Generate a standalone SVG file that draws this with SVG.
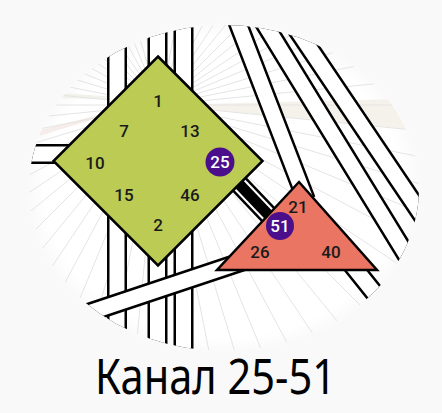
<svg xmlns="http://www.w3.org/2000/svg" width="442" height="413" viewBox="0 0 442 413">
<defs>
<radialGradient id="bg" cx="0.5" cy="0.5" r="0.5">
<stop offset="0.9" stop-color="#ffffff"/>
<stop offset="1" stop-color="#f9f9f9"/>
</radialGradient>
<clipPath id="cl"><ellipse cx="224" cy="188" rx="195" ry="163"/></clipPath>
<style>
.ray{stroke:#e4e4e4;stroke-width:1;fill:none}
.so{stroke:#000;stroke-width:20;fill:none}
.si{stroke:#fff;stroke-width:15;fill:none}
.lab{font-family:Roboto,"Noto Sans",sans-serif;font-size:17px;font-weight:500;fill:#1a1a1a;text-anchor:middle}
.gl{font-family:Roboto,"Noto Sans",sans-serif;font-size:17px;font-weight:500;fill:#fff;text-anchor:middle}
.gc{fill:#4b0f8c}
</style>
</defs>
<rect width="442" height="413" fill="#f9f9f9"/>
<ellipse cx="224" cy="188" rx="198" ry="166" fill="url(#bg)"/>
<g id="background" clip-path="url(#cl)">
<polygon points="160,99 -10,143 -10,151" fill="#f6ecea"/>
<polygon points="160,100 -10,88 -10,97" fill="#f1f3ea"/>
<polygon points="160,105 440,98 440,132" fill="#f5f2ec"/>
<path class="ray" d="M-260,105L580,105M-258,63.8L578,146.2M-251.9,23.1L571.9,186.9M-241.9,-16.9L561.9,226.9M-228,-55.7L548,265.7M-210.4,-93L530.4,303M-189.2,-128.3L509.2,338.3M-164.7,-161.4L484.7,371.4M-137,-192L457,402M-106.4,-219.7L426.4,429.7M-73.3,-244.2L393.3,454.2M-38,-265.4L358,475.4M-0.7,-283L320.7,493M38.1,-296.9L281.9,506.9M78.1,-306.9L241.9,516.9M118.8,-313L201.2,523M160,-315L160,525M201.2,-313L118.8,523M241.9,-306.9L78.1,516.9M281.9,-296.9L38.1,506.9M320.7,-283L-0.7,493M358,-265.4L-38,475.4M393.3,-244.2L-73.3,454.2M426.4,-219.7L-106.4,429.7M457,-192L-137,402M484.7,-161.4L-164.7,371.4M509.2,-128.3L-189.2,338.3M530.4,-93L-210.4,303M548,-55.7L-228,265.7M561.9,-16.9L-241.9,226.9M571.9,23.1L-251.9,186.9M578,63.8L-258,146.2"/>
</g>
<g id="connectors" clip-path="url(#cl)">
<path class="so" d="M117,0V413M157.5,0V413M183.5,0V413M0,154H80M229,0L306,200M250,0L434,300M277,0L479,300M344,255L444,380"/>
<path class="si" d="M117,0V413M157.5,0V413M183.5,0V413M0,154H80M229,0L306,200M250,0L434,300M277,0L479,300M344,255L444,380"/>
<path class="so" d="M40,329L250,259"/>
<path class="si" d="M40,329L250,259"/>
<g id="channel-25-51">
<path class="so" d="M219,163L280,227"/>
<path class="si" d="M219,163L280,227"/>
<path d="M219,163L280,227" stroke="#000" stroke-width="11"/>
</g>
</g>
<g id="center-g">
<polygon points="158,56.5 262.5,161 158,265.5 53.5,161" fill="#bccb53" stroke="#000" stroke-width="2.5" stroke-linejoin="miter"/>
<text class="lab" x="158" y="107">1</text>
<text class="lab" x="124" y="137">7</text>
<text class="lab" x="190" y="137">13</text>
<text class="lab" x="95" y="169">10</text>
<text class="lab" x="124" y="201">15</text>
<text class="lab" x="190" y="201">46</text>
<text class="lab" x="158" y="231">2</text>
</g>
<g id="center-heart">
<polygon points="299,182 377,270 217,270" fill="#e97562" stroke="#000" stroke-width="2.5"/>
<text class="lab" x="298" y="213">21</text>
<text class="lab" x="260" y="258">26</text>
<text class="lab" x="331" y="258">40</text>
</g>
<g id="gate-25">
<circle class="gc" cx="220" cy="162" r="14.5"/>
<text class="gl" x="220" y="168">25</text>
</g>
<g id="gate-51">
<circle class="gc" cx="280" cy="226" r="14"/>
<text class="gl" x="280" y="232">51</text>
</g>
<text id="title" x="95" y="394" font-family="Noto Sans, sans-serif" font-size="50" fill="#000" textLength="241" lengthAdjust="spacingAndGlyphs">Канал 25-51</text>
</svg>
